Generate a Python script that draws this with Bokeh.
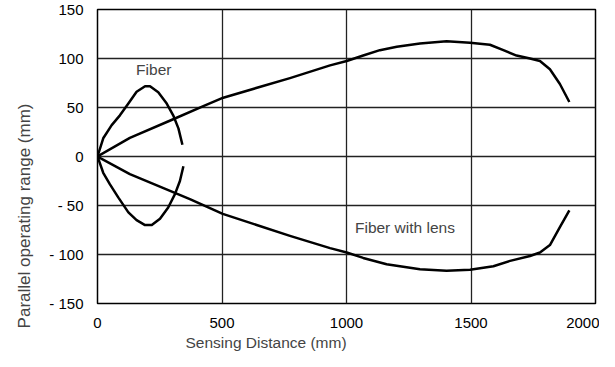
from bokeh.plotting import figure
from bokeh.models import Label, FixedTicker, Range1d, Title
from bokeh.embed import file_html
from bokeh.resources import INLINE

# Data
fiber_up_x = [0, 23, 57, 90, 124, 157, 191, 211, 244, 278, 304, 325, 341]
fiber_up_y = [0, 18.6, 32, 42, 54, 66, 71.7, 71.7, 65.6, 54, 42, 28.7, 12]
fiber_lo_x = [0, 23, 50, 84, 124, 157, 191, 218, 251, 284, 311, 331, 345]
fiber_lo_y = [0, -16.6, -28.4, -42, -57, -65, -70, -70, -63.6, -52, -38.4, -25, -10]

lens_up_x = [0, 130, 304, 425, 505, 773, 934, 1001, 1067, 1134, 1202, 1295, 1402, 1496, 1576,
             1630, 1683, 1737, 1777, 1817, 1857, 1895]
lens_up_y = [0, 19, 38, 51.5, 60, 80, 93, 97.5, 103, 108.5, 112, 115.3, 117.6, 116, 114,
             108.5, 103, 100, 97.5, 89, 74, 55.6]
lens_lo_x = [0, 130, 371, 503, 773, 934, 1001, 1067, 1161, 1295, 1402, 1496, 1590, 1657,
             1737, 1777, 1817, 1857, 1895]
lens_lo_y = [0, -18, -43.5, -58.6, -81, -93.5, -98, -103.5, -110, -115, -116.6, -115.6, -112, -106.5,
             -101.5, -98, -90.4, -72, -55]

x_ticks = [0, 500, 1000, 1500, 2000]
y_ticks = [-150, -100, -50, 0, 50, 100, 150]
y_tick_labels = {-150: "- 150", -100: "- 100", -50: "- 50", 0: "0", 50: "50", 100: "100", 150: "150"}

FONT = "Liberation Sans"

p = figure(width=599, height=351, output_backend="svg", toolbar_location=None,
           x_range=Range1d(0, 2000), y_range=Range1d(-150, 150),
           min_border_left=97, min_border_right=4, min_border_top=9, min_border_bottom=44)

p.outline_line_color = "black"
p.outline_line_width = 1.5
p.background_fill_color = "white"
p.border_fill_color = "white"

for ax in (p.xaxis[0], p.yaxis[0]):
    ax.axis_line_color = None
    ax.major_tick_line_color = None
    ax.minor_tick_line_color = None
    ax.major_label_text_font = FONT
    ax.major_label_text_font_size = "15px"
    ax.major_label_text_color = "black"

p.xaxis.ticker = FixedTicker(ticks=x_ticks)
p.yaxis.ticker = FixedTicker(ticks=y_ticks)
p.yaxis.major_label_overrides = y_tick_labels
p.xaxis.major_label_standoff = 8
p.yaxis.major_label_standoff = 8

p.xgrid.ticker = FixedTicker(ticks=x_ticks)
p.ygrid.ticker = FixedTicker(ticks=y_ticks)
p.grid.grid_line_color = "#222222"
p.grid.grid_line_width = 1.3

for xs, ys in ((fiber_up_x, fiber_up_y), (fiber_lo_x, fiber_lo_y),
               (lens_up_x, lens_up_y), (lens_lo_x, lens_lo_y)):
    p.line(xs, ys, line_color="black", line_width=2.5, line_join="round")

p.add_layout(Label(x=155, y=89, text="Fiber", text_font=FONT, text_font_size="15.5px",
                   text_baseline="middle", text_align="left"))
p.add_layout(Label(x=1034, y=-72, text="Fiber with lens", text_font=FONT, text_font_size="15.5px",
                   text_baseline="middle", text_align="left"))

# axis titles (offset as in the original)
p.add_layout(Title(text="Sensing Distance (mm)", text_font=FONT, text_font_size="15.5px",
                   text_font_style="normal", align="left", offset=88, standoff=2), "below")
p.add_layout(Title(text="Parallel operating range (mm)", text_font=FONT, text_font_size="17px",
                   text_font_style="normal", align="right", offset=94, standoff=25), "left")

open("out.html", "w").write(file_html(p, INLINE))
